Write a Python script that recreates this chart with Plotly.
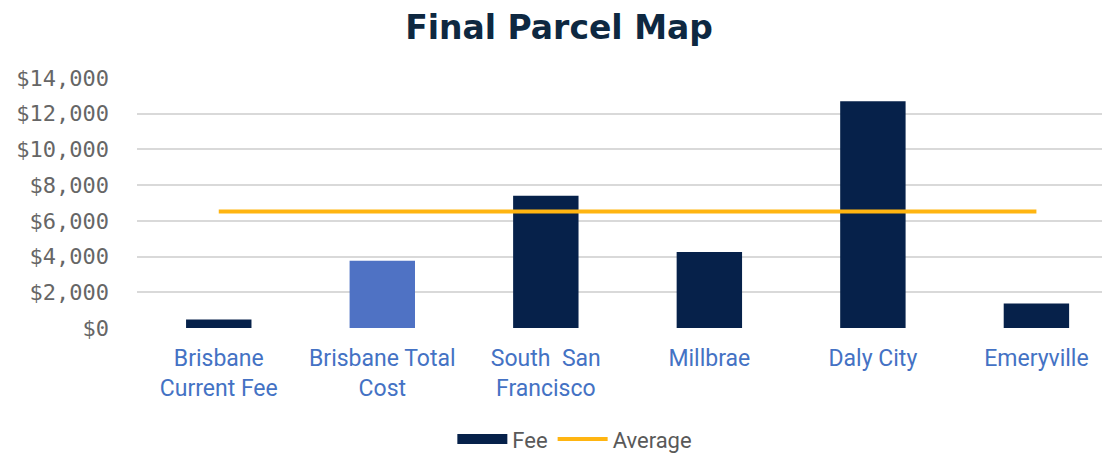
import plotly.graph_objects as go

categories = ["Brisbane<br>Current Fee", "Brisbane Total<br>Cost", "South  San<br>Francisco",
              "Millbrae", "Daly City", "Emeryville"]
fee = [480, 3770, 7400, 4260, 12700, 1370]
average = [6530, 6530, 6530, 6530, 6530, 6530]
bar_colors = ["#06214A", "#4F72C4", "#06214A", "#06214A", "#06214A", "#06214A"]
y_ticks = [0, 2000, 4000, 6000, 8000, 10000, 12000, 14000]

x = list(range(len(categories)))

fig = go.Figure()
fig.add_trace(go.Bar(x=x, y=fee, name="Fee", marker=dict(color=bar_colors, line=dict(width=0)),
                     width=0.4, showlegend=False))
# legend proxy for the bar series (wide rectangle swatch)
fig.add_trace(go.Scatter(x=[None], y=[None], name="Fee", mode="lines",
                         line=dict(color="#06214A", width=13)))
fig.add_trace(go.Scatter(x=x, y=average, name="Average", mode="lines",
                         line=dict(color="#FFB511", width=4)))

fig.update_layout(
    width=1102, height=446,
    margin=dict(l=129, r=0, t=70, b=125.5, autoexpand=False),
    paper_bgcolor="white", plot_bgcolor="white",
    title=dict(text="<b>Final Parcel Map</b>", x=0.5, xanchor="center", y=0.956, yanchor="middle",
               font=dict(family="DejaVu Sans", size=33, color="#0E2841")),
    showlegend=True,
    legend=dict(orientation="h", x=0.45, xanchor="center", y=-0.445, yanchor="middle",
                font=dict(family="Roboto", size=22, color="#595959"), traceorder="normal",
                itemwidth=50),
)
fig.update_xaxes(range=[-0.5, 5.45], tickmode="array", tickvals=x, ticktext=categories,
                 tickfont=dict(family="Roboto", size=23, color="#4472C4"),
                 showgrid=False, zeroline=False, showline=False, ticks="",
                 ticklabelstandoff=14, automargin=False)
fig.update_yaxes(range=[0, 14000], tickvals=y_ticks,
                 ticktext=["$" + f"{v:,}" for v in y_ticks],
                 tickfont=dict(family="DejaVu Sans Mono", size=22, color="#666666"),
                 showgrid=True, gridcolor="#D9D9D9", gridwidth=1.5, zeroline=False,
                 showline=False, ticks="", ticklabelstandoff=27, automargin=False)

fig.write_html("out.html")
